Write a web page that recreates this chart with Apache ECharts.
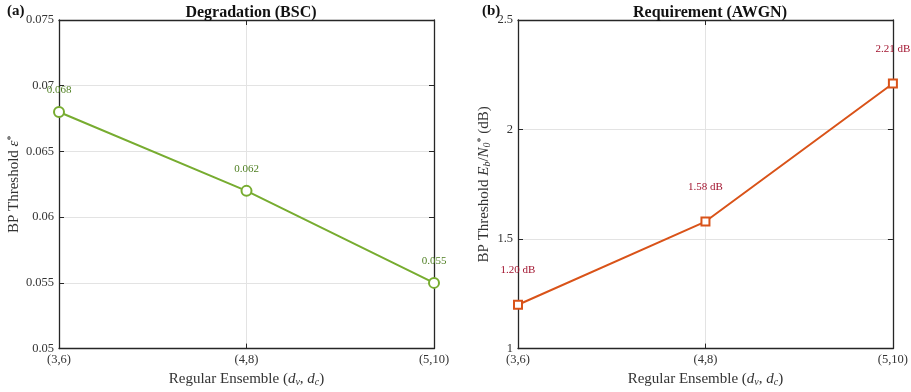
<!DOCTYPE html>
<html>
<head>
<meta charset="utf-8">
<script src="https://cdn.jsdelivr.net/npm/echarts@6/dist/echarts.min.js"></script>
<style>
  html, body { margin: 0; padding: 0; background: #fff; }
  #chart { width: 911px; height: 392px; }
</style>
</head>
<body>
<div id="chart"></div>
<script>
// Regular LDPC ensembles (dv, dc)
const ensembles = ['(3,6)', '(4,8)', '(5,10)'];
// BP threshold on the BSC (crossover probability)
const bscThreshold = [0.068, 0.062, 0.055];
// BP threshold on the AWGN channel, Eb/N0 in dB
const awgnThreshold = [1.20, 1.58, 2.21];
// Y-axis tick ranges
const bscTicks = { min: 0.05, max: 0.075, step: 0.005 };
const awgnTicks = { min: 1, max: 2.5, step: 0.5 };

const FONT = 'Liberation Serif';
const AXIS = '#262626';
const GRID = '#e3e3e3';
const GREEN = '#77AC30';
const ORANGE = '#D95319';

const chart = echarts.init(document.getElementById('chart'), null, { renderer: 'canvas' });

const sub = { fontFamily: FONT, fontSize: 10, fontStyle: 'italic', color: '#333', verticalAlign: 'bottom', padding: [6, 0, 0, 0] };
const xName = {
  name: 'Regular Ensemble ({i|d}{s|v}, {i|d}{s|c})',
  nameLocation: 'middle',
  nameGap: 21,
  nameTextStyle: {
    fontFamily: FONT, fontSize: 15, color: '#333',
    rich: {
      i: { fontFamily: FONT, fontSize: 15, fontStyle: 'italic', color: '#333' },
      s: sub
    }
  }
};

function baseX(gridIndex) {
  return [
    Object.assign({
      type: 'category', gridIndex, data: ensembles, boundaryGap: false, position: 'bottom',
      axisLine: { lineStyle: { color: AXIS, width: 1.3 } },
      axisTick: { inside: true, length: 5, lineStyle: { color: AXIS } },
      axisLabel: { fontFamily: FONT, fontSize: 12.5, color: '#333', margin: 5 },
      splitLine: { show: true, lineStyle: { color: GRID, width: 1 } }
    }, xName),
    {
      type: 'category', gridIndex, data: ensembles, boundaryGap: false, position: 'top',
      axisLine: { lineStyle: { color: AXIS, width: 1.3 } },
      axisTick: { inside: true, length: 5, lineStyle: { color: AXIS } },
      axisLabel: { show: false }, splitLine: { show: false }
    }
  ];
}

function baseY(gridIndex, ticks, fmt, name, rich, nameGap) {
  return [
    {
      type: 'value', gridIndex, min: ticks.min, max: ticks.max, interval: ticks.step, position: 'left',
      name, nameLocation: 'middle', nameGap,
      nameTextStyle: { fontFamily: FONT, fontSize: 15, color: '#333', rich },
      axisLine: { show: true, lineStyle: { color: AXIS, width: 1.3 } },
      axisTick: { show: true, inside: true, length: 5, lineStyle: { color: AXIS } },
      axisLabel: { fontFamily: FONT, fontSize: 12.5, color: '#333', margin: 5, formatter: fmt },
      splitLine: { show: true, lineStyle: { color: GRID, width: 1 } }
    },
    {
      type: 'value', gridIndex, min: ticks.min, max: ticks.max, interval: ticks.step, position: 'right',
      axisLine: { show: true, lineStyle: { color: AXIS, width: 1.3 } },
      axisTick: { show: true, inside: true, length: 5, lineStyle: { color: AXIS } },
      axisLabel: { show: false }, splitLine: { show: false }
    }
  ];
}

const supStyle = { fontFamily: FONT, fontSize: 10, color: '#333', verticalAlign: 'top', padding: [0, 0, 6, 0] };
const xAxes = baseX(0).concat(baseX(1));
const yAxes = baseY(0, bscTicks, v => String(+v.toFixed(3)),
  'BP Threshold {i|ε}{p|*}',
  {
    i: { fontFamily: FONT, fontSize: 15, fontStyle: 'italic', color: '#333' },
    p: supStyle
  }, 35)
  .concat(baseY(1, awgnTicks, v => String(+v.toFixed(1)),
  'BP Threshold {i|E}{s|b}{n|/}{i|N}{s|0}{p|*} (dB)',
  {
    i: { fontFamily: FONT, fontSize: 15, fontStyle: 'italic', color: '#333' },
    n: { fontFamily: FONT, fontSize: 15, color: '#333' },
    s: sub,
    p: supStyle
  }, 26));

chart.setOption({
  animation: false,
  backgroundColor: '#fff',
  title: [
    { text: 'Degradation (BSC)', left: 246, top: 0, textAlign: 'center',
      textStyle: { fontFamily: FONT, fontSize: 16, fontWeight: 'bold', color: '#111' } },
    { text: 'Requirement (AWGN)', left: 705, top: 0, textAlign: 'center',
      textStyle: { fontFamily: FONT, fontSize: 16, fontWeight: 'bold', color: '#111' } },
    { text: '(a)', left: 2, top: -1,
      textStyle: { fontFamily: FONT, fontSize: 15, fontWeight: 'bold', color: '#111' } },
    { text: '(b)', left: 477, top: -1,
      textStyle: { fontFamily: FONT, fontSize: 15, fontWeight: 'bold', color: '#111' } }
  ],
  grid: [
    { left: 59, right: 477, top: 20, bottom: 41 },
    { left: 518, right: 18, top: 20, bottom: 41 }
  ],
  xAxis: xAxes,
  yAxis: yAxes,
  series: [
    {
      type: 'line', xAxisIndex: 0, yAxisIndex: 0, data: bscThreshold,
      symbol: 'circle', symbolSize: 10,
      lineStyle: { color: GREEN, width: 2 },
      itemStyle: { color: '#fff', borderColor: GREEN, borderWidth: 2 },
      label: { show: true, position: 'top', distance: 10, formatter: p => p.value.toFixed(3),
        fontFamily: FONT, fontSize: 11, color: '#4F7F22' },
      z: 5
    },
    {
      type: 'line', xAxisIndex: 2, yAxisIndex: 2, data: awgnThreshold,
      symbol: 'rect', symbolSize: 8,
      lineStyle: { color: ORANGE, width: 2 },
      itemStyle: { color: '#fff', borderColor: ORANGE, borderWidth: 2 },
      label: { show: true, position: 'top', distance: 24, formatter: p => p.value.toFixed(2) + ' dB',
        fontFamily: FONT, fontSize: 11, color: '#A2142F' },
      z: 5
    }
  ]
});
</script>
</body>
</html>
